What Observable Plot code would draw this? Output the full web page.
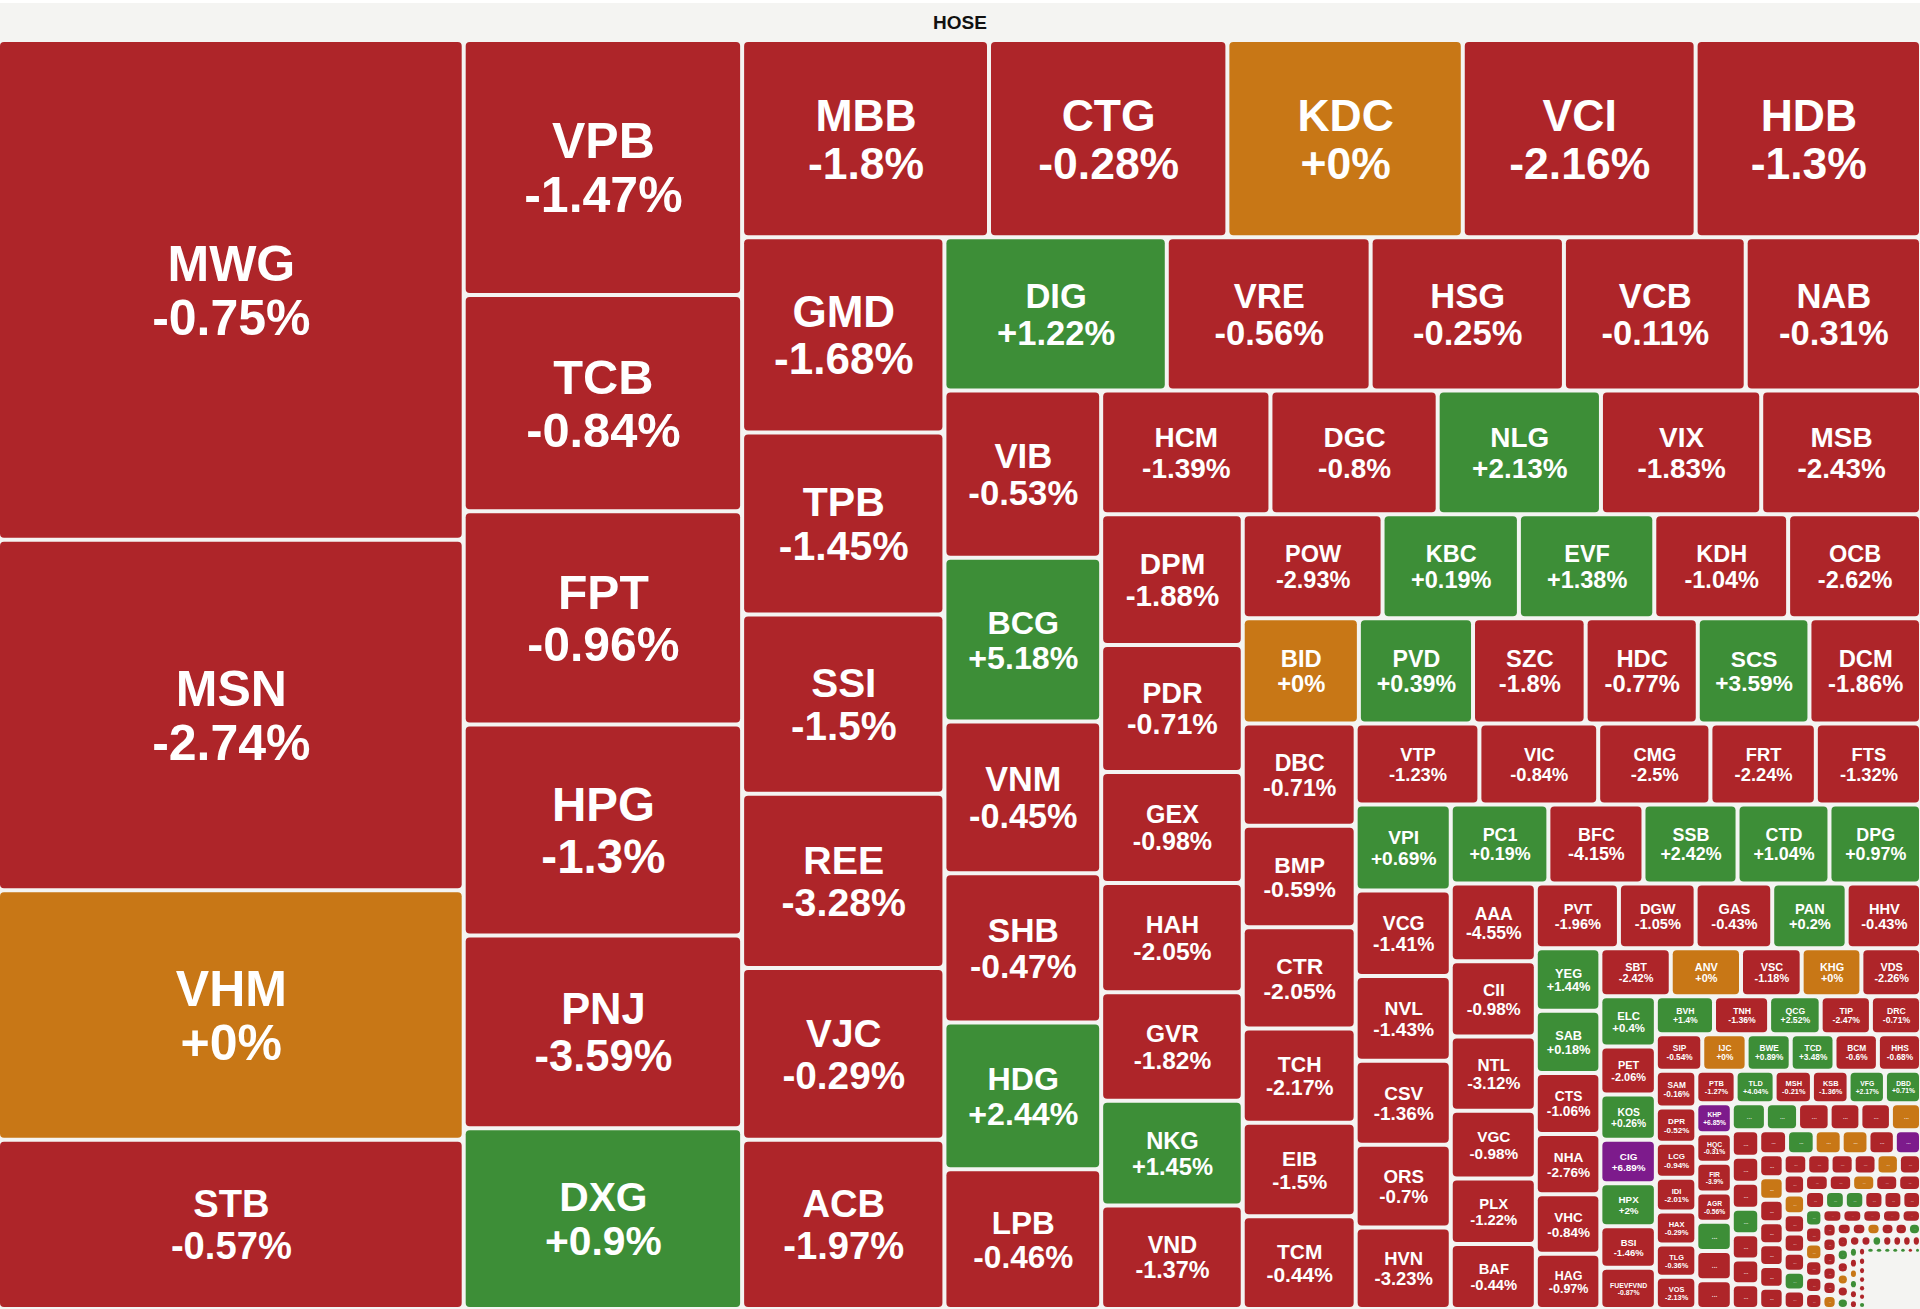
<!DOCTYPE html>
<html>
<head>
<meta charset="utf-8">
<script src="https://cdn.jsdelivr.net/npm/d3@7"></script>
<script src="https://cdn.jsdelivr.net/npm/@observablehq/plot@0.6"></script>
<style>
html, body { margin: 0; padding: 0; background: #f4f4f2; }
#header {
  box-sizing: border-box; height: 42px; border-top: 3px solid #ffffff;
  background: #f4f4f2; text-align: center; color: #111;
  font: bold 19px "Liberation Sans", Arial, Helvetica, sans-serif; line-height: 39px;
}
#chart svg { display: block; }
</style>
</head>
<body>
<div id="header">HOSE</div>
<div id="chart"></div>
<script>
// ---- Data ----
const tickers = [
  "MWG","MSN","VHM","STB",
  "VPB","TCB","FPT","HPG","PNJ","DXG",
  "MBB","CTG","KDC","VCI","HDB",
  "GMD","TPB","SSI","REE","VJC","ACB",
  "DIG","VRE","HSG","VCB","NAB",
  "VIB","BCG","VNM","SHB","HDG","LPB",
  "HCM","DGC","NLG","VIX","MSB",
  "DPM","PDR","GEX","HAH","GVR","NKG","VND",
  "POW","KBC","EVF","KDH","OCB",
  "BID","PVD","SZC","HDC","SCS","DCM",
  "DBC","BMP","CTR","TCH","EIB","TCM",
  "VTP","VIC","CMG","FRT","FTS",
  "VPI","VCG","NVL","CSV","ORS","HVN",
  "PC1","BFC","SSB","CTD","DPG",
  "AAA","CII","NTL","VGC","PLX","BAF",
  "PVT","DGW","GAS","PAN","HHV",
  "YEG","SAB","CTS","NHA","VHC","HAG",
  "SBT","ANV","VSC","KHG","VDS",
  "ELC","PET","KOS","CIG","HPX","BSI","FUEVFVND",
  "BVH","TNH","QCG","TIP","DRC",
  "SIP","IJC","BWE","TCD","BCM","HHS",
  "SAM","DPR","LCG","IDI","HAX","TLG","VOS",
  "PTB","TLD","MSH","KSB","VFG","DBD",
  "KHP","HQC","FIR","AGR"
];
const changes = [
  -0.75,-2.74,0,-0.57,
  -1.47,-0.84,-0.96,-1.3,-3.59,0.9,
  -1.8,-0.28,0,-2.16,-1.3,
  -1.68,-1.45,-1.5,-3.28,-0.29,-1.97,
  1.22,-0.56,-0.25,-0.11,-0.31,
  -0.53,5.18,-0.45,-0.47,2.44,-0.46,
  -1.39,-0.8,2.13,-1.83,-2.43,
  -1.88,-0.71,-0.98,-2.05,-1.82,1.45,-1.37,
  -2.93,0.19,1.38,-1.04,-2.62,
  0,0.39,-1.8,-0.77,3.59,-1.86,
  -0.71,-0.59,-2.05,-2.17,-1.5,-0.44,
  -1.23,-0.84,-2.5,-2.24,-1.32,
  0.69,-1.41,-1.43,-1.36,-0.7,-3.23,
  0.19,-4.15,2.42,1.04,0.97,
  -4.55,-0.98,-3.12,-0.98,-1.22,-0.44,
  -1.96,-1.05,-0.43,0.2,-0.43,
  1.44,0.18,-1.06,-2.76,-0.84,-0.97,
  -2.42,0,-1.18,0,-2.26,
  0.4,-2.06,0.26,6.89,2,-1.46,-0.87,
  1.4,-1.36,2.52,-2.47,-0.71,
  -0.54,0,0.89,3.48,-0.6,-0.68,
  -0.16,-0.52,-0.94,-2.01,-0.29,-0.36,-2.13,
  -1.27,4.04,-0.21,-1.36,2.17,0.71,
  6.85,-0.31,-3.9,-0.56
];
const values = [
  232035,162750,115785,78585,
  70750,60050,59210,58520,53515,50180,
  48560,46890,46300,45800,44330,
  39390,36660,36160,35150,34640,34140,
  33970,31140,29530,27770,26780,
  26140,25590,23710,23320,22930,21830,
  20870,20620,20130,19760,19700,
  18470,17910,15650,15440,15300,14800,14600,
  14500,14140,14040,13880,13780,
  12180,11970,11810,11760,11710,11700,
  11530,11410,11400,10620,10510,10450,
  10000,9600,9070,8520,8500,
  8150,8100,8050,7950,7850,7730,
  7700,7500,7420,7250,7220,
  6590,6375,6290,5740,5550,5520,
  5350,4935,4930,4790,4785,
  4030,4000,3935,3870,3840,3550,
  3370,3365,2905,2860,2855,
  2775,2665,2500,2400,2385,2300,2275,
  2205,2090,1955,1905,1900,
  1690,1615,1605,1595,1580,1570,
  1480,1420,1415,1360,1335,1300,1300,
  1270,1260,1205,1185,1175,1165,
  1060,1050,1045,1040
];
// Small tickers shown only as "..." (or as dots) in the reference
const tailValues = [
  1035,1030,1020,
  918,866,850,828,822,810,
  725,715,705,700,690,680,675,
  665,660,645,640,630,625,
  560,550,545,540,530,525,520,
  480,475,470,465,455,450,
  425,420,415,410,405,400,395,
  390,385,380,378,375,
  360,355,350,345,340,335,
  300,295,290,285,280,275,
  270,268,266,264,262,
  210,208,206,204,202,200,
  190,185,180,175,170,165,
  160,155,150,148,145,140,
  130,125,120,115,110,108,105,
  100,98,95,92,90,88,
  80,78,75,72,70,68,66,
  62,60,58,56,54,52,50,
  48,46,44,42,40,
  38,36,34,32,30,28
];
const tailChanges = [
  0.8,-1.1,-0.9,
  1.2,0.5,-0.7,-1.4,-0.3,0,
  -0.6,-1.2,-2.1,0.9,-0.4,-1.5,-0.8,
  -1.0,1.3,0,0,-0.5,6.9,
  -0.9,0,-1.3,-0.6,-2.0,-0.7,-1.1,
  -0.4,-1.6,-0.8,-1.2,0,-0.5,
  -0.7,0,-1.0,-0.3,-1.9,0.6,-0.9,
  -1.1,-0.6,0,-0.8,-1.4,
  -0.5,0.7,1.5,-1.2,-0.9,-0.3,
  0.4,-1.0,0,-0.7,-2.2,-0.6,
  -0.8,-1.3,-0.4,-1.0,-0.6,
  -0.9,-0.5,-1.7,-0.3,-1.1,0,
  -0.6,-1.2,0,-0.8,-0.4,1.1,
  -1.0,0.9,-0.7,0,-0.5,0.6,
  -1.3,-0.8,0.5,-0.6,-1.0,-0.4,-0.9,
  0.8,-0.5,0,1.2,-1.1,-0.7,
  -0.6,-0.9,-1.4,-0.3,-0.8,-1.1,0.4,
  0.3,1.0,0.7,0.5,1.4,-0.6,0.9,
  -0.7,0,0.6,-1.0,-0.5,
  0.8,-0.4,0,-0.9,0.5,-0.6
];
// Remaining very small tickers whose tiles collapse under the padding (empty corner)
const restValue = 2600;

// Number of tiles in each successive squarified row/column, as seen in the reference
const rowSizes = [4,6,5,6,5,6,5,7,5,6,6,5,6,5,6,5,6,5,7,5,6,7,6,7,
                  6,7,6,7,6,7,5,6,6,5,6,6,6,7,6,7,7,5,6,1];

const statusNames = ["down", "up", "flat", "ceiling"];
const statusColors = ["#ae2529", "#3d8e37", "#c87716", "#7d1b8c"];

// ---- Layout ----
const W = 1920, H = 1267;
const status = c => c >= 6.8 ? "ceiling" : c > 0 ? "up" : c === 0 ? "flat" : "down";
const items = tickers.map((t, i) => ({name: t, change: changes[i], value: values[i], named: true}))
  .concat(tailValues.map((v, i) => ({name: "", change: tailChanges[i], value: v, named: false})))
  .concat([{name: "", change: null, value: restValue, named: false, hidden: true}]);

// Squarified-style tiling that follows the reference's row grouping
function rowTiling(parent, x0, y0, x1, y1) {
  let value = parent.value, i = 0;
  for (const k of rowSizes) {
    const nodes = parent.children.slice(i, i + k);
    if (!nodes.length) break;
    const sum = d3.sum(nodes, n => n.value);
    const row = {children: nodes, value: sum};
    const dx = x1 - x0, dy = y1 - y0;
    if (dx < dy) {
      const y = value ? y0 + dy * sum / value : y1;
      d3.treemapDice(row, x0, y0, x1, y);
      y0 = y;
    } else {
      const x = value ? x0 + dx * sum / value : x1;
      d3.treemapSlice(row, x0, y0, x, y1);
      x0 = x;
    }
    value -= sum; i += k;
  }
}

const root = d3.hierarchy({children: items}).sum(d => d.value || 0);
d3.treemap().tile(rowTiling).size([W, H])
  .paddingInner(4).paddingRight(1).paddingBottom(2)(root);

const tiles = root.leaves()
  .filter(n => !n.data.hidden && n.x1 - n.x0 > 0 && n.y1 - n.y0 > 0)
  .map(n => ({...n.data, x0: n.x0, x1: n.x1, y0: n.y0, y1: n.y1,
              w: n.x1 - n.x0, h: n.y1 - n.y0, cx: (n.x0 + n.x1) / 2, cy: (n.y0 + n.y1) / 2}));

const ctx = document.createElement("canvas").getContext("2d");
ctx.font = 'bold 100px "Liberation Sans", Arial, sans-serif';
const em = s => ctx.measureText(s).width / 100;
const fmt = c => (c >= 0 ? "+" : "-") + Math.abs(c) + "%";

const namedTiles = tiles.filter(d => d.named).map(d => {
  const pct = fmt(d.change);
  const wEm = Math.max(em(d.name), em(pct));
  return {...d, label: d.name + "\n" + pct, fs: Math.min(50, 0.225 * d.h + 1, 0.72 * d.w / wEm)};
});
const dotTiles = tiles.filter(d => !d.named && Math.min(d.w, d.h) >= 8)
  .map(d => ({...d, fs: Math.min(7.5, 0.26 * Math.min(d.w, d.h))}));

const chart = Plot.plot({
  width: W, height: H, margin: 0,
  x: {domain: [0, W], range: [0, W], axis: null},
  y: {domain: [0, H], range: [0, H], axis: null},
  color: {domain: statusNames, range: statusColors},
  style: {background: "#f4f4f2", fontFamily: '"Liberation Sans", Arial, Helvetica, sans-serif'},
  marks: [
    Plot.rect(tiles, {x1: "x0", x2: "x1", y1: "y0", y2: "y1", fill: d => status(d.change), rx: 4}),
    Plot.text(namedTiles, {x: "cx", y: "cy", text: "label", fontSize: "fs", fill: "white",
      fontWeight: "bold", lineHeight: 1.08}),
    Plot.text(dotTiles, {x: "cx", y: "cy", text: () => "...", fontSize: "fs", fill: "white",
      fontWeight: "bold", fillOpacity: 0.8})
  ]
});
document.getElementById("chart").appendChild(chart);
</script>
</body>
</html>
